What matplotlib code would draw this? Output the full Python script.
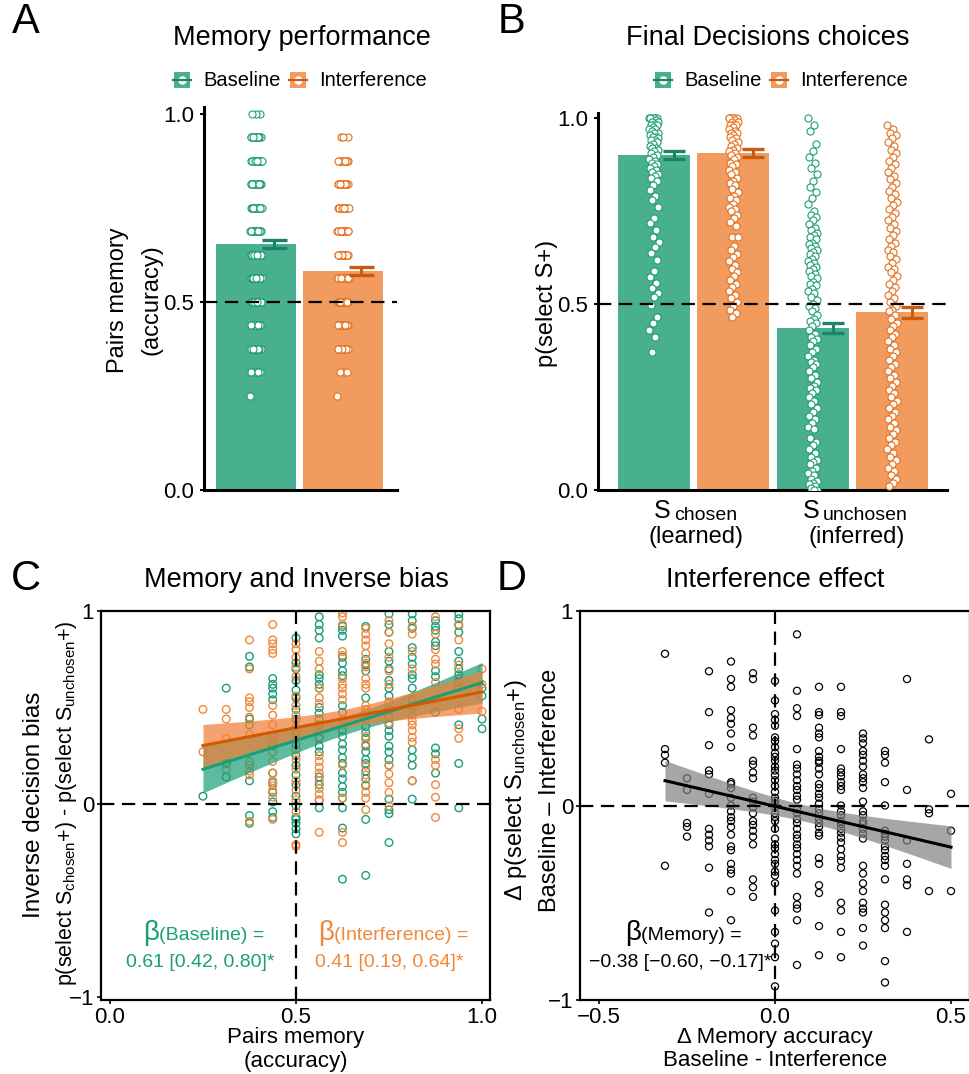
import numpy as np
import matplotlib
matplotlib.use('Agg')
import matplotlib.pyplot as plt
from matplotlib.patches import Rectangle
from matplotlib.lines import Line2D

plt.rcParams['font.family'] = ['Liberation Sans', 'DejaVu Sans']
plt.rcParams['mathtext.fontset'] = 'custom'
plt.rcParams['mathtext.rm'] = 'Liberation Sans'
plt.rcParams['mathtext.it'] = 'Liberation Sans:italic'
plt.rcParams['mathtext.bf'] = 'Liberation Sans:bold'

# ---------------- DATA ----------------
# Panel A: memory performance
a_conditions = ['Baseline', 'Interference']
a_means = [0.654, 0.582]
a_se = [0.010, 0.010]
a_levels = [0.25, 0.3125, 0.375, 0.4375, 0.5, 0.5625, 0.625, 0.6875, 0.75, 0.8125, 0.875, 0.9375, 1.0]
a_base_counts = [1, 6, 9, 12, 16, 16, 18, 18, 18, 16, 16, 14, 3]
a_intf_counts = [1, 3, 10, 14, 18, 18, 18, 16, 14, 14, 12, 3, 0]

# Panel B: final decisions
b_groups = [('S', 'chosen', '(learned)'), ('S', 'unchosen', '(inferred)')]
b_means = [0.900, 0.906, 0.435, 0.478]
b_se = [0.010, 0.010, 0.013, 0.015]
b_chosen_base = [1.0, 1.0, 1.0, 1.0, 1.0, 1.0, 0.995, 0.99, 0.99, 0.985, 0.98, 0.98, 0.975, 0.97, 0.97,
                 0.965, 0.96, 0.96, 0.955, 0.95, 0.95, 0.945, 0.94, 0.94, 0.935, 0.93, 0.925, 0.92, 0.92,
                 0.915, 0.91, 0.905, 0.90, 0.895, 0.89, 0.885, 0.88, 0.875, 0.87, 0.865, 0.86, 0.855, 0.85,
                 0.845, 0.84, 0.83, 0.82, 0.806, 0.79, 0.78, 0.76, 0.73, 0.717, 0.70, 0.68, 0.667, 0.654,
                 0.636, 0.618, 0.59, 0.573, 0.556, 0.542, 0.529, 0.52, 0.497, 0.466, 0.448, 0.43, 0.41, 0.372]
b_chosen_intf = [1.0, 1.0, 1.0, 1.0, 1.0, 1.0, 0.995, 0.99, 0.99, 0.985, 0.98, 0.98, 0.975, 0.97, 0.965,
                 0.96, 0.96, 0.955, 0.95, 0.945, 0.94, 0.935, 0.93, 0.925, 0.92, 0.915, 0.91, 0.905, 0.90,
                 0.895, 0.89, 0.88, 0.875, 0.87, 0.86, 0.855, 0.85, 0.84, 0.83, 0.825, 0.82, 0.81, 0.80,
                 0.79, 0.785, 0.78, 0.77, 0.76, 0.755, 0.75, 0.74, 0.73, 0.72, 0.71, 0.68, 0.68, 0.655,
                 0.645, 0.635, 0.625, 0.615, 0.605, 0.595, 0.585, 0.575, 0.565, 0.555, 0.545, 0.535,
                 0.525, 0.515, 0.505, 0.495, 0.485, 0.475, 0.465]
b_unch_base = [1.0, 0.98, 0.965, 0.93, 0.91, 0.895, 0.88, 0.865, 0.85, 0.83, 0.815, 0.80, 0.785, 0.77,
               0.75, 0.74, 0.735, 0.725, 0.715, 0.705, 0.70, 0.69, 0.685, 0.68, 0.675, 0.665, 0.66, 0.655,
               0.65, 0.645, 0.64, 0.635, 0.63, 0.62, 0.615, 0.61, 0.605, 0.60, 0.595, 0.59, 0.58, 0.575,
               0.57, 0.56, 0.555, 0.55, 0.54, 0.535, 0.53, 0.52, 0.51, 0.50, 0.495, 0.49, 0.48, 0.47,
               0.46, 0.455, 0.45, 0.44, 0.43, 0.42, 0.41, 0.405, 0.40, 0.39, 0.38, 0.37, 0.36, 0.35,
               0.345, 0.34, 0.33, 0.32, 0.31, 0.30, 0.29, 0.28, 0.275, 0.27, 0.26, 0.25, 0.24, 0.23,
               0.22, 0.21, 0.20, 0.19, 0.18, 0.17, 0.165, 0.14, 0.13, 0.12, 0.11, 0.10, 0.09, 0.08,
               0.075, 0.07, 0.06, 0.05, 0.045, 0.04, 0.03, 0.025, 0.02, 0.015, 0.01, 0.005, 0.0, 0.0]
b_unch_intf = [0.98, 0.97, 0.96, 0.955, 0.945, 0.935, 0.925, 0.915, 0.905, 0.895, 0.885, 0.875, 0.865,
               0.855, 0.845, 0.835, 0.825, 0.815, 0.805, 0.795, 0.785, 0.775, 0.765, 0.755, 0.745, 0.735,
               0.725, 0.715, 0.705, 0.695, 0.685, 0.675, 0.665, 0.655, 0.645, 0.64, 0.63, 0.62, 0.61,
               0.60, 0.595, 0.585, 0.575, 0.565, 0.555, 0.545, 0.535, 0.525, 0.515, 0.505, 0.495, 0.485,
               0.48, 0.47, 0.46, 0.45, 0.44, 0.43, 0.42, 0.41, 0.40, 0.39, 0.38, 0.37, 0.36, 0.35, 0.34,
               0.33, 0.32, 0.31, 0.30, 0.29, 0.28, 0.27, 0.26, 0.25, 0.24, 0.23, 0.22, 0.21, 0.20, 0.19,
               0.18, 0.17, 0.16, 0.15, 0.14, 0.13, 0.12, 0.11, 0.10, 0.09, 0.08, 0.07, 0.06, 0.05, 0.04,
               0.03, 0.02, 0.01]

# Panel C: memory vs inverse bias (y values per memory-accuracy level)
c_levels = [0.25, 0.3125, 0.375, 0.4375, 0.5, 0.5625, 0.625, 0.6875, 0.75, 0.8125, 0.875, 0.9375, 1.0]
c_base_y = [
    [0.04],
    [0.60, 0.21, 0.14],
    [0.765, 0.71, 0.44, 0.41, 0.12, -0.06, -0.10],
    [0.65, 0.62, 0.60, 0.57, 0.54, 0.30, 0.16, 0.11, 0.06, 0.01, -0.04, -0.07],
    [0.86, 0.73, 0.70, 0.64, 0.59, 0.55, 0.49, 0.44, 0.38, 0.36, 0.31, 0.25, 0.20, 0.15, 0.10, 0.04,
     -0.01, -0.07, -0.08, -0.10, -0.13, -0.155],
    [0.97, 0.93, 0.90, 0.86, 0.67, 0.65, 0.62, 0.60, 0.50, 0.47, 0.44, 0.41, 0.34, 0.30, 0.27, 0.14,
     0.10, 0.02, -0.02],
    [0.92, 0.90, 0.87, 0.76, 0.73, 0.69, 0.665, 0.51, 0.475, 0.38, 0.35, 0.31, 0.28, 0.24, 0.21, 0.16,
     0.13, 0.09, 0.06, 0.03, -0.02, -0.125, -0.39],
    [0.92, 0.75, 0.72, 0.69, 0.55, 0.44, 0.40, 0.37, 0.34, 0.30, 0.27, 0.23, 0.21, 0.17, 0.13, 0.095,
     -0.08, -0.37],
    [0.985, 0.93, 0.89, 0.79, 0.74, 0.70, 0.64, 0.60, 0.56, 0.49, 0.45, 0.41, 0.38, 0.35, 0.30, 0.27,
     0.23, 0.20, 0.025, -0.03, -0.05, -0.20],
    [0.985, 0.95, 0.91, 0.81, 0.76, 0.725, 0.67, 0.65, 0.60, 0.54, 0.51, 0.28, 0.24, 0.20, 0.12, 0.025],
    [0.95, 0.92, 0.90, 0.84, 0.82, 0.69, 0.66, 0.545, 0.475, 0.29, 0.26, 0.16],
    [0.985, 0.96, 0.925, 0.89, 0.79, 0.74, 0.70, 0.67, 0.63, 0.41, 0.21, -0.02],
    [0.60, 0.56, 0.44, 0.39],
]
c_intf_y = [
    [0.49, 0.27],
    [0.49, 0.44, 0.34, 0.18],
    [0.85, 0.70, 0.55, 0.53, 0.50, 0.45, 0.36, 0.22, 0.20, 0.17, 0.15, -0.09],
    [0.93, 0.85, 0.83, 0.80, 0.78, 0.51, 0.46, 0.41, 0.35, 0.32, 0.27, 0.22, 0.16, 0.12, 0.095, 0.07,
     0.035, -0.08],
    [0.83, 0.80, 0.76, 0.71, 0.66, 0.56, 0.51, 0.46, 0.40, 0.34, 0.28, 0.23, 0.18, 0.12, 0.07, 0.02,
     -0.04, -0.21, -0.22],
    [0.79, 0.74, 0.70, 0.60, 0.55, 0.52, 0.38, 0.345, 0.25, 0.22, 0.19, 0.16, 0.12, 0.08, 0.05, 0.02,
     -0.147],
    [0.99, 0.97, 0.93, 0.79, 0.77, 0.65, 0.62, 0.60, 0.57, 0.54, 0.44, 0.41, 0.20, 0.03, -0.147, -0.20],
    [0.91, 0.88, 0.85, 0.82, 0.78, 0.73, 0.71, 0.65, 0.62, 0.60, 0.51, 0.49, 0.47, 0.35, 0.31, 0.20,
     0.15, 0.10, 0.06, 0.03, -0.03],
    [0.95, 0.89, 0.83, 0.76, 0.69, 0.62, 0.53, 0.42, 0.20, 0.155, 0.11, 0.06, -0.01],
    [0.92, 0.88, 0.79, 0.70, 0.49, 0.46, 0.43, 0.41, 0.38, 0.345, 0.32, 0.12],
    [0.97, 0.88, 0.80, 0.75, 0.725, 0.63, 0.545, 0.23, 0.20, 0.10, 0.035, -0.07],
    [0.93, 0.85, 0.72, 0.65, 0.60, 0.49, 0.39, 0.34],
    [0.70, 0.62, 0.48],
]

# Panel D: interference effect (y values per delta-memory level)
d_levels = [-0.3125, -0.25, -0.1875, -0.125, -0.0625, 0.0, 0.0625, 0.125, 0.1875, 0.25, 0.3125,
            0.375, 0.4375, 0.5]
d_y = [
    [0.78, 0.29, 0.26, 0.22, -0.31],
    [0.14, 0.08, -0.09, -0.11, -0.16],
    [0.69, 0.48, 0.31, 0.18, 0.16, 0.06, -0.12, -0.15, -0.18, -0.21, -0.32, -0.55],
    [0.74, 0.65, 0.61, 0.49, 0.45, 0.42, 0.37, 0.30, 0.12, 0.11, 0.09, 0.04, 0.0, -0.03, -0.06, -0.08,
     -0.11, -0.15, -0.21, -0.23, -0.30, -0.33, -0.35, -0.44, -0.59],
    [0.68, 0.65, 0.40, 0.36, 0.23, 0.21, 0.17, 0.14, 0.04, 0.02, -0.01, -0.04, -0.08, -0.10, -0.13,
     -0.16, -0.20, -0.38, -0.42, -0.47],
    [0.64, 0.54, 0.47, 0.44, 0.41, 0.35, 0.33, 0.30, 0.27, 0.25, 0.23, 0.20, 0.18, 0.155, 0.13, 0.10,
     0.07, 0.04, 0.025, 0.01, -0.01, -0.04, -0.06, -0.08, -0.12, -0.17, -0.20, -0.22, -0.25, -0.28,
     -0.30, -0.34, -0.36, -0.40, -0.54, -0.65, -0.71, -0.78, -0.93],
    [0.88, 0.59, 0.50, 0.46, 0.29, 0.21, 0.19, 0.16, 0.13, 0.10, 0.08, 0.05, 0.03, -0.02, -0.04, -0.07,
     -0.09, -0.12, -0.15, -0.17, -0.20, -0.22, -0.25, -0.28, -0.31, -0.35, -0.47, -0.51, -0.53, -0.59,
     -0.82],
    [0.61, 0.48, 0.465, 0.40, 0.37, 0.35, 0.28, 0.25, 0.23, 0.22, 0.19, 0.16, 0.11, 0.09, 0.06, 0.04,
     0.01, -0.02, -0.04, -0.07, -0.09, -0.11, -0.14, -0.155, -0.27, -0.30, -0.41, -0.45, -0.62, -0.77],
    [0.61, 0.48, 0.46, 0.29, 0.19, 0.17, 0.15, 0.12, 0.10, 0.08, 0.0, -0.03, -0.05, -0.08, -0.095,
     -0.12, -0.14, -0.165, -0.19, -0.225, -0.26, -0.285, -0.32, -0.50, -0.54, -0.65, -0.78],
    [0.37, 0.345, 0.32, 0.28, 0.26, 0.23, 0.20, 0.16, 0.14, 0.12, 0.09, 0.02, -0.03, -0.05, -0.08,
     -0.095, -0.12, -0.145, -0.17, -0.31, -0.35, -0.40, -0.44, -0.50, -0.53, -0.55, -0.63, -0.72],
    [0.28, 0.26, 0.22, 0.12, 0.0, -0.13, -0.145, -0.16, -0.18, -0.21, -0.23, -0.26, -0.28, -0.31,
     -0.38, -0.51, -0.55, -0.59, -0.63, -0.80, -0.91],
    [0.65, 0.08, -0.18, -0.30, -0.38, -0.41, -0.65],
    [0.34, -0.02, -0.04, -0.44],
    [0.06, -0.13, -0.44],
]

# ---------------- STYLE ----------------
GREEN_BAR, ORANGE_BAR = '#48AF8F', '#F29B5F'
GREEN_PT, ORANGE_PT = '#1E9E78', '#E5701E'
GREEN_ERR, ORANGE_ERR = '#1A8566', '#C95A10'
C_GREEN, C_ORANGE = '#1B9E77', '#F0883C'
C_GREEN_LINE, C_ORANGE_LINE = '#1B9E77', '#D35A00'

W, H = 969, 1074
fig = plt.figure(figsize=(W / 100, H / 100), dpi=100)


def ax_px(x0, y0, x1, y1):
    return fig.add_axes([x0 / W, 1 - y1 / H, (x1 - x0) / W, (y1 - y0) / H])


def ftext(x, y, s, **kw):
    return fig.text(x / W, 1 - y / H, s, **kw)


def jitter(n, half):
    return ((np.arange(n) * 0.6180339887) % 1.0 - 0.5) * 2 * half


def fit_band(x, y, xs):
    x = np.asarray(x); y = np.asarray(y)
    n = len(x)
    b, a = np.polyfit(x, y, 1)
    res = y - (a + b * x)
    s = np.sqrt(np.sum(res ** 2) / (n - 2))
    xm = x.mean()
    sxx = np.sum((x - xm) ** 2)
    se = s * np.sqrt(1.0 / n + (xs - xm) ** 2 / sxx)
    return a + b * xs, 1.97 * se


DASH = (0, (6, 3.4))
TICK_FS = 16

# ---------------- PANEL A ----------------
axA = ax_px(204, 107, 397, 490)
a_x = np.array([1.0, 2.0])
axA.bar(a_x, a_means, width=0.91, color=[GREEN_BAR, ORANGE_BAR], zorder=1)
for xi, counts, col in zip(a_x, [a_base_counts, a_intf_counts], [GREEN_PT, ORANGE_PT]):
    vals = np.repeat(a_levels, counts)
    axA.scatter(xi + jitter(len(vals), 0.065), vals, s=26, facecolor='white', edgecolor=col,
                linewidth=0.8, zorder=3)
axA.axhline(0.5, color='black', lw=1.6, ls=DASH, zorder=4)
for xi, m, e, col in zip(a_x, a_means, a_se, [GREEN_ERR, ORANGE_ERR]):
    axA.errorbar(xi + 0.205, m, yerr=e, color=col, capsize=9, elinewidth=2.2, capthick=2.4, zorder=5)
axA.set_xlim(0.402, 2.62)
axA.set_ylim(0, 1.0186)
axA.set_yticks([0, 0.5, 1.0])
axA.set_yticklabels(['0.0', '0.5', '1.0'])
axA.set_xticks([])
for sp in ['top', 'right']:
    axA.spines[sp].set_visible(False)
for sp in ['left', 'bottom']:
    axA.spines[sp].set_linewidth(2.2)
axA.tick_params(axis='y', length=3, width=1.5, labelsize=TICK_FS, pad=4)

# ---------------- PANEL B ----------------
axB = ax_px(598, 113, 947, 490)
b_x = np.array([0.75, 1.25, 1.75, 2.25])
b_cols_bar = [GREEN_BAR, ORANGE_BAR, GREEN_BAR, ORANGE_BAR]
b_cols_pt = [GREEN_PT, ORANGE_PT, GREEN_PT, ORANGE_PT]
b_cols_err = [GREEN_ERR, ORANGE_ERR, GREEN_ERR, ORANGE_ERR]
axB.bar(b_x, b_means, width=0.454, color=b_cols_bar, zorder=1)
for xi, vals, col in zip(b_x, [b_chosen_base, b_chosen_intf, b_unch_base, b_unch_intf], b_cols_pt):
    vals = np.asarray(vals)
    axB.scatter(xi + jitter(len(vals), 0.03), vals, s=26, facecolor='white', edgecolor=col,
                linewidth=0.8, zorder=3)
axB.axhline(0.5, color='black', lw=1.6, ls=DASH, zorder=4)
for xi, m, e, col in zip(b_x, b_means, b_se, b_cols_err):
    axB.errorbar(xi + 0.125, m, yerr=e, color=col, capsize=8, elinewidth=2.2, capthick=2.4, zorder=5)
axB.set_xlim(0.398, 2.595)
axB.set_ylim(0, 1.0134)
axB.set_yticks([0, 0.5, 1.0])
axB.set_yticklabels(['0.0', '0.5', '1.0'])
axB.set_xticks([1, 2])
axB.set_xticklabels(['', ''])
for sp in ['top', 'right']:
    axB.spines[sp].set_visible(False)
for sp in ['left', 'bottom']:
    axB.spines[sp].set_linewidth(2.2)
axB.tick_params(axis='y', length=3, width=1.5, labelsize=TICK_FS, pad=4)
axB.tick_params(axis='x', length=0)
# category labels: large "S" + smaller subscript word, then a second line
for (big, sub, second), anchor, cx in zip(b_groups, [672, 821], [696, 857]):
    ftext(anchor - 1, 518, big, fontsize=18, ha='right', va='baseline')
    ftext(anchor + 2, 520, sub, fontsize=14, ha='left', va='baseline')
    ftext(cx, 543, second, fontsize=17, ha='center', va='baseline')

# legends for A and B (drawn keys)
def legend_row(x0):
    items = [(x0, GREEN_BAR, GREEN_ERR, a_conditions[0]), (x0 + 116, ORANGE_BAR, ORANGE_ERR, a_conditions[1])]
    for kx, bar, err, lab in items:
        fig.add_artist(Rectangle((kx / W, 1 - 88 / H), 16 / W, 16 / H, transform=fig.transFigure,
                                 facecolor=bar, edgecolor='none'))
        fig.add_artist(Line2D([(kx + 8) / W], [1 - 80 / H], transform=fig.transFigure, marker='o',
                              ms=5, mfc='white', mec='white', ls='none'))
        fig.add_artist(Line2D([(kx - 1) / W, (kx + 17) / W], [1 - 80 / H, 1 - 80 / H],
                              transform=fig.transFigure, color=err, lw=1.6))
        ftext(kx + 29, 80, lab, fontsize=14.5, ha='left', va='center')

legend_row(174)
legend_row(655)

# ---------------- PANEL C ----------------
axC = ax_px(101, 611, 490, 1000)
for ys_list, col in [(c_base_y, C_GREEN), (c_intf_y, C_ORANGE)]:
    xs = np.concatenate([np.full(len(v), l) for l, v in zip(c_levels, ys_list)])
    ys = np.concatenate([np.asarray(v, float) for v in ys_list])
    axC.scatter(xs, ys, s=30, facecolor='none', edgecolor=col, linewidth=1.0, zorder=2)

c_fit = {}
for key, ys_list in [('base', c_base_y), ('intf', c_intf_y)]:
    xs = np.concatenate([np.full(len(v), l) for l, v in zip(c_levels, ys_list)])
    ys = np.concatenate([np.asarray(v, float) for v in ys_list])
    grid = np.linspace(min(c_levels), max(c_levels), 50)
    c_fit[key] = (grid,) + fit_band(xs, ys, grid)
g, yh, ci = c_fit['base']
axC.fill_between(g, yh - ci, yh + ci, color='#1B9E77', alpha=0.7, lw=0, zorder=3)
g, yh2, ci2 = c_fit['intf']
axC.fill_between(g, yh2 - ci2, yh2 + ci2, color='#F07F38', alpha=0.72, lw=0, zorder=4)
axC.plot(g, yh, color=C_GREEN_LINE, lw=2.2, zorder=5)
axC.plot(g, yh2, color=C_ORANGE_LINE, lw=2.2, zorder=6)
axC.axhline(0, color='black', lw=1.6, ls=DASH, zorder=7)
axC.axvline(0.5, color='black', lw=1.6, ls=DASH, zorder=7)
axC.set_xlim(-0.024, 1.0215)
axC.set_ylim(-1.016, 1.0)
axC.set_xticks([0, 0.5, 1.0])
axC.set_xticklabels(['0.0', '0.5', '1.0'])
axC.set_yticks([-1, 0, 1])
axC.set_yticklabels(['\u22121', '0', '1'])
for sp in axC.spines.values():
    sp.set_linewidth(1.6)
axC.tick_params(length=3, width=1.2, labelsize=TICK_FS, pad=2)

# ---------------- PANEL D ----------------
axD = ax_px(580, 611, 970, 1000)
dxs = np.concatenate([np.full(len(v), l) for l, v in zip(d_levels, d_y)])
dys = np.concatenate([np.asarray(v, float) for v in d_y])
axD.scatter(dxs, dys, s=26, facecolor='none', edgecolor='black', linewidth=0.9, zorder=2)
dg = np.linspace(min(d_levels), max(d_levels), 50)
dyh, dci = fit_band(dxs, dys, dg)
axD.fill_between(dg, dyh - dci, dyh + dci, color='#808080', alpha=0.7, lw=0, zorder=3)
axD.plot(dg, dyh, color='black', lw=2.2, zorder=4)
axD.axhline(0, color='black', lw=1.6, ls=DASH, zorder=5)
axD.axvline(0, color='black', lw=1.6, ls=DASH, zorder=5)
axD.set_xlim(-0.554, 0.554)
axD.set_ylim(-1.0, 1.0)
axD.set_xticks([-0.5, 0, 0.5])
axD.set_xticklabels(['\u22120.5', '0.0', '0.5'])
axD.set_yticks([-1, 0, 1])
axD.set_yticklabels(['\u22121', '0', '1'])
for sp in axD.spines.values():
    sp.set_linewidth(1.6)
axD.tick_params(length=3, width=1.2, labelsize=TICK_FS, pad=2)

# ---------------- TEXT ----------------
for x, y, s in [(26, 22, 'A'), (512, 22, 'B'), (26, 579, 'C'), (512, 579, 'D')]:
    ftext(x, y, s, fontsize=30, ha='center', va='center')

ftext(302, 38, 'Memory performance', fontsize=19.5, ha='center', va='center')
ftext(768, 38, 'Final Decisions choices', fontsize=19.5, ha='center', va='center')
ftext(296, 580, 'Memory and Inverse bias', fontsize=19.5, ha='center', va='center')
ftext(775, 580, 'Interference effect', fontsize=19.5, ha='center', va='center')

ftext(118, 300, 'Pairs memory', fontsize=17, rotation=90, ha='center', va='center')
ftext(151, 300, '(accuracy)', fontsize=17, rotation=90, ha='center', va='center')
ftext(547, 303, 'p(select S+)', fontsize=17, rotation=90, ha='center', va='center')

ftext(34, 805, 'Inverse decision bias', fontsize=17.5, rotation=90, ha='center', va='center')
ftext(67, 803, 'p(select S$_{\\mathrm{chosen}}$+) - p(select S$_{\\mathrm{unchosen}}$+)',
      fontsize=15.5, rotation=90, ha='center', va='center')
ftext(296, 1037, 'Pairs memory', fontsize=16, ha='center', va='center')
ftext(296, 1061, '(accuracy)', fontsize=16, ha='center', va='center')

ftext(516, 790, '\u0394 p(select S$_{\\mathrm{unchosen}}$+)', fontsize=17, rotation=90,
      ha='center', va='center')
ftext(550, 790, 'Baseline \u2013 Interference', fontsize=17, rotation=90, ha='center', va='center')
ftext(775, 1037, '\u0394 Memory accuracy', fontsize=16, ha='center', va='center')
ftext(775, 1061, 'Baseline - Interference', fontsize=16, ha='center', va='center')

# regression annotations
ftext(159, 940, '\u03b2', fontsize=20, color=C_GREEN, ha='right', va='baseline')
ftext(159, 940, '(Baseline) =', fontsize=14, color=C_GREEN, ha='left', va='baseline')
ftext(200, 967, '0.61 [0.42, 0.80]*', fontsize=14, color=C_GREEN, ha='center', va='baseline')
ftext(334, 940, '\u03b2', fontsize=20, color=C_ORANGE, ha='right', va='baseline')
ftext(334, 940, '(Interference) =', fontsize=14, color=C_ORANGE, ha='left', va='baseline')
ftext(389, 967, '0.41 [0.19, 0.64]*', fontsize=14, color=C_ORANGE, ha='center', va='baseline')
ftext(641, 940, '\u03b2', fontsize=20, color='black', ha='right', va='baseline')
ftext(641, 940, '(Memory) =', fontsize=14, color='black', ha='left', va='baseline')
ftext(680, 967, '\u22120.38 [\u22120.60, \u22120.17]*', fontsize=14, color='black', ha='center',
      va='baseline')

fig.savefig('out.png', dpi=100)
